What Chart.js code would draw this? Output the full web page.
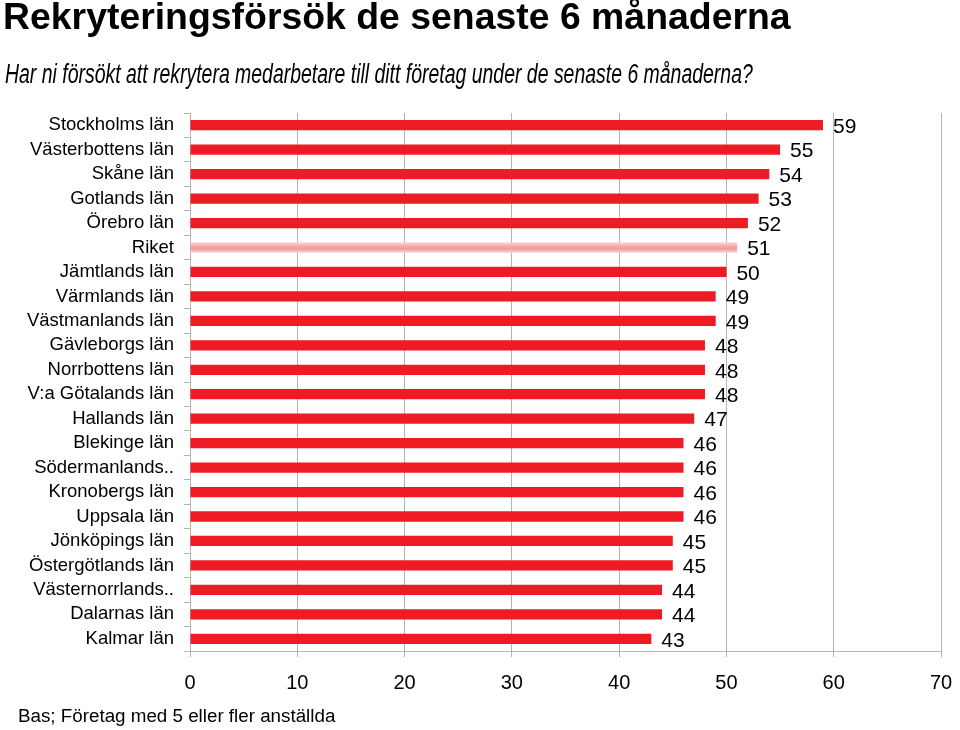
<!DOCTYPE html>
<html lang="sv">

<head>
    <meta charset="UTF-8">
    <title>Rekryteringsförsök</title>
    <script src="https://cdn.jsdelivr.net/npm/chart.js"></script>
    <style>
        body { margin: 0; background: #fff; font-family: "Liberation Sans", Arial, sans-serif; }
        #wrap { position: relative; width: 960px; height: 730px; overflow: hidden; }
        #title { position: absolute; left: 3px; top: -5px; font-size: 37.4px; font-weight: bold; white-space: nowrap; }
        #subtitle { position: absolute; left: 5px; top: 59px; font-size: 27px; font-style: italic; white-space: nowrap;
            transform: scaleX(0.72); transform-origin: left top; }
        #footer { position: absolute; left: 18px; top: 705px; font-size: 18.8px; white-space: nowrap; }
        canvas { position: absolute; left: 0; top: 0; }
    </style>
</head>

<body>
    <div id="wrap">
        <canvas id="barChart" width="960" height="730"></canvas>
        <div id="title">Rekryteringsförsök de senaste 6 månaderna</div>
        <div id="subtitle">Har ni försökt att rekrytera medarbetare till ditt företag under de senaste 6 månaderna?</div>
        <div id="footer">Bas; Företag med 5 eller fler anställda</div>
    </div>
    <script>
        const regions = ['Stockholms län', 'Västerbottens län', 'Skåne län', 'Gotlands län', 'Örebro län', 'Riket',
            'Jämtlands län', 'Värmlands län', 'Västmanlands län', 'Gävleborgs län', 'Norrbottens län',
            'V:a Götalands län', 'Hallands län', 'Blekinge län', 'Södermanlands..', 'Kronobergs län',
            'Uppsala län', 'Jönköpings län', 'Östergötlands län', 'Västernorrlands..', 'Dalarnas län', 'Kalmar län'];
        const percent = [59, 55, 54, 53, 52, 51, 50, 49, 49, 48, 48, 48, 47, 46, 46, 46, 46, 45, 45, 44, 44, 43];
        const xTicks = [0, 10, 20, 30, 40, 50, 60, 70];
        const highlight = 'Riket';

        const font = '"Liberation Sans", Arial, sans-serif';
        const red = '#ed1c24';
        const gridGray = '#b4b4b4';

        // bar colours, Riket gets a faded gradient
        function barColor(ctx) {
            const chart = ctx.chart;
            if (regions[ctx.dataIndex] !== highlight) return red;
            const y = chart.scales.y;
            if (!y) return red;
            const c = y.getPixelForValue(ctx.dataIndex);
            const h = 7;
            const g = chart.ctx.createLinearGradient(0, c - h, 0, c + h);
            g.addColorStop(0, '#fdecec');
            g.addColorStop(0.45, '#f6a3a6');
            g.addColorStop(0.6, '#f49a9d');
            g.addColorStop(1, '#fef1f1');
            return g;
        }

        // value labels right of bars
        const valueLabels = {
            id: 'valueLabels',
            afterDatasetsDraw(chart) {
                const ctx = chart.ctx;
                const meta = chart.getDatasetMeta(0);
                ctx.save();
                ctx.font = '21px ' + font;
                ctx.fillStyle = '#000';
                ctx.textAlign = 'left';
                ctx.textBaseline = 'middle';
                meta.data.forEach((bar, i) => {
                    ctx.fillText(percent[i], bar.x + 10, bar.y + 2);
                });
                ctx.restore();
            }
        };

        const ctx = document.getElementById('barChart').getContext('2d');
        new Chart(ctx, {
            type: 'bar',
            data: {
                labels: regions,
                datasets: [{
                    data: percent,
                    backgroundColor: barColor,
                    borderWidth: 0,
                    barPercentage: 0.42,
                    categoryPercentage: 1
                }]
            },
            options: {
                indexAxis: 'y',
                responsive: false,
                animation: false,
                layout: { padding: { top: 113, left: 20, right: 19, bottom: 21 } },
                plugins: {
                    legend: { display: false },
                    tooltip: { enabled: false }
                },
                scales: {
                    x: {
                        min: 0,
                        max: 70,
                        afterBuildTicks: (s) => { s.ticks = xTicks.map(v => ({ value: v })); },
                        afterFit: (s) => { s.paddingLeft = 0; s.paddingRight = 0; },
                        grid: { color: gridGray, tickLength: 6, lineWidth: 1 },
                        border: { color: gridGray },
                        ticks: { color: '#000', font: { family: font, size: 20 }, padding: 14, maxRotation: 0 }
                    },
                    y: {
                        afterFit: (s) => { s.width = 170; },
                        grid: { drawOnChartArea: false, color: gridGray, tickLength: 6, offset: true },
                        border: { color: gridGray },
                        ticks: { color: '#000', font: { family: font, size: 18.5 }, padding: 10, autoSkip: false }
                    }
                }
            },
            plugins: [valueLabels]
        });
    </script>
</body>

</html>
